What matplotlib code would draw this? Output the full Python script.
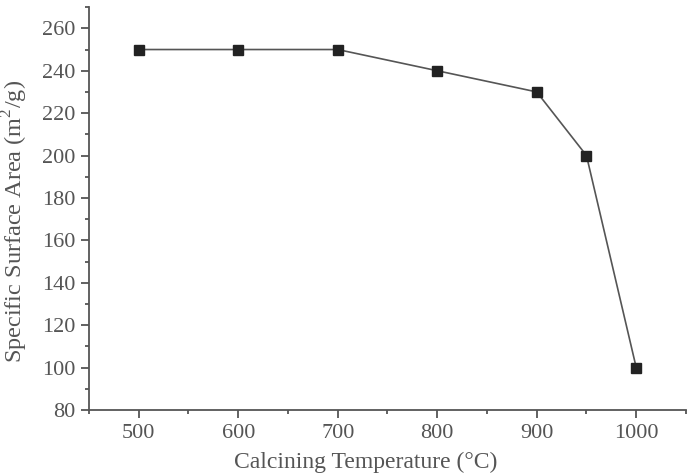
import matplotlib
matplotlib.use('Agg')
import matplotlib.pyplot as plt
from matplotlib.ticker import MultipleLocator

plt.rcParams['font.family'] = 'Liberation Serif'
plt.rcParams['mathtext.fontset'] = 'custom'
plt.rcParams['mathtext.rm'] = 'Liberation Serif'

# Data
temperature = [500, 600, 700, 800, 900, 950, 1000]
surface_area = [250, 250, 250, 240, 230, 200, 100]

x_ticks = [500, 600, 700, 800, 900, 1000]
y_ticks = [80, 100, 120, 140, 160, 180, 200, 220, 240, 260]

text_color = '#555555'
axis_color = '#555555'

fig = plt.figure(figsize=(6.95, 4.75), dpi=100)
ax = fig.add_axes([0.128, 0.137, 0.859, 0.848])

ax.plot(temperature, surface_area, color='#555555', linewidth=1.2,
        marker='s', markersize=7, markerfacecolor='#222222',
        markeredgecolor='#222222', zorder=3)

ax.set_xlim(450, 1050)
ax.set_ylim(80, 270)
ax.set_xticks(x_ticks)
ax.set_yticks(y_ticks)
ax.xaxis.set_minor_locator(MultipleLocator(50))
ax.yaxis.set_minor_locator(MultipleLocator(10))

ax.spines['top'].set_visible(False)
ax.spines['right'].set_visible(False)
for s in ('left', 'bottom'):
    ax.spines[s].set_color(axis_color)
    ax.spines[s].set_linewidth(1.3)

ax.tick_params(which='major', direction='out', length=6, width=1.3,
               color=axis_color, labelcolor=text_color, labelsize=16, pad=4)
ax.tick_params(which='minor', direction='out', length=3, width=1.3,
               color=axis_color)

ax.set_xlabel('Calcining Temperature (°C)', fontsize=17, color=text_color)
ax.set_ylabel('Specific Surface Area (m$^2$/g)', fontsize=17.5, color=text_color)
ax.xaxis.set_label_coords(0.464, -0.104)
ax.yaxis.set_label_coords(-0.098, 0.469)

fig.savefig('out.png', dpi=100)
